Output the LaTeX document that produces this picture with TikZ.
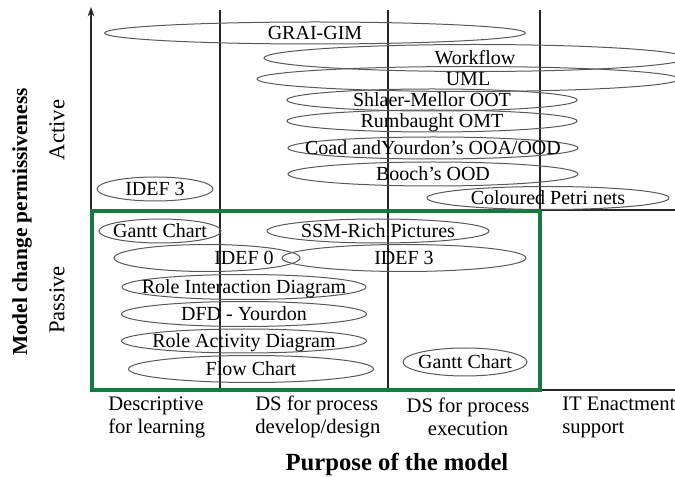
\documentclass[tikz,border=0pt]{standalone}
\usepackage{fontspec}
\setmainfont{Liberation Serif}
\usepackage{xcolor}
\usetikzlibrary{arrows, arrows.meta, positioning, shapes.geometric}
\definecolor{boxgreen}{RGB}{22,122,62}
\tikzset{
    >={Stealth[length=7pt, width=5pt]}, % filled arrow head on the axis
    gridline/.style={line width=0.8pt, black!85},
    method/.style={ellipse, draw=black!65, line width=0.75pt, inner sep=0pt}, % one modelling method
    dims/.style 2 args={minimum width=#1*0.75pt, minimum height=#2*0.75pt},
    purpose/.style={align=left, inner sep=0pt, font=\fontsize{15.5}{17.25}\selectfont},
}

\begin{document}
\begin{tikzpicture}
                [x=0.75pt, y=-0.75pt,
                 every label/.style={font=\fontsize{15}{17}\selectfont, text height=10pt, text depth=0pt, inner sep=0pt}]
                \path[use as bounding box, clip] (0,0) rectangle (675,477);

                % Assi e griglia
                \coordinate (origin) at (91,390);
                \coordinate (ytop) at (91,7);
                \coordinate (xend) at (675,390);
                \draw[gridline] (91,210) -- (675,210);
                \draw[gridline] (origin) -- (xend);
                \foreach \x in {220,388,540}
                    \draw[gridline] (\x,10) -- (\x,390);
                \draw[gridline, ->] (origin) -- (ytop);

                % Attivi
                \node[method, dims={421}{22}, label=center:GRAI-GIM] (graigim) at (315,33) {};
                \node[method, dims={422}{27}, label=center:Workflow] (workflow) at (475,58) {};
                \node[method, dims={422}{25}, label=center:UML] (uml) at (468,79) {};
                \node[method, dims={290}{22}, label=center:Shlaer-Mellor OOT] (shlaer) at (432,100) {};
                \node[method, dims={290}{22}, label=center:Rumbaught OMT] (rumbaugh) at (432,121) {};
                \node[method, dims={290}{22}, label=center:Coad andYourdon's OOA/OOD] (coad) at (433,148) {};
                \node[method, dims={290}{24}, label=center:Booch's OOD] (booch) at (433,174) {};
                \node[method, dims={116}{24}, label=center:IDEF 3] (idefthreea) at (155,189) {};
                \node[method, dims={242}{23}, label=center:Coloured Petri nets] (petri) at (548,198) {};

                % Passivi
                \node[method, dims={122}{24}, label=center:Gantt Chart] (ganttdesc) at (160,231) {};
                \node[method, dims={222}{24}, label=center:SSM-Rich Pictures] (ssm) at (378,231) {};
                \node[method, dims={186}{27}, label={[xshift=27.75pt]center:IDEF 0}] (idefzero) at (207,258) {};
                \node[method, dims={244}{27}, label=center:IDEF 3] (idefthreeb) at (404,258) {};
                \node[method, dims={244}{25}, label=center:Role Interaction Diagram] (rid) at (244,287) {};
                \node[method, dims={245}{25}, label=center:DFD - Yourdon] (dfd) at (244,314) {};
                \node[method, dims={245}{24}, label=center:Role Activity Diagram] (rad) at (244,341) {};
                \node[method, dims={245}{27}, label=center:Flow Chart] (flow) at (251,369) {};
                \node[method, dims={124}{28}, label=center:Gantt Chart] (ganttexec) at (465,362) {};

                \draw[boxgreen, line width=2.3pt] (92,211) rectangle (540,390);

                % Etichette
                \node[rotate=90, font=\bfseries\fontsize{16}{18}\selectfont] (ylabel) at (22,222) {Model change permissiveness};
                \node[rotate=90, font=\fontsize{17}{19}\selectfont] (active) at (57,130) {Active};
                \node[rotate=90, font=\fontsize{17}{19}\selectfont] (passive) at (57,300) {Passive};

                \node[purpose, anchor=west] (descr) at (108,417) {Descriptive\\for learning};
                \node[purpose, anchor=west] (dsdevelop) at (255,417) {DS for process\\develop/design};
                \node[purpose, align=center] (dsexec) at (468,417) {DS for process\\execution};
                \node[purpose, anchor=west] (itenact) at (562,417) {IT Enactment\\support};
                \node[font=\bfseries\fontsize{18.5}{20}\selectfont] (purposemodel) at (397,464) {Purpose of the model};

            \end{tikzpicture}
\end{document}
